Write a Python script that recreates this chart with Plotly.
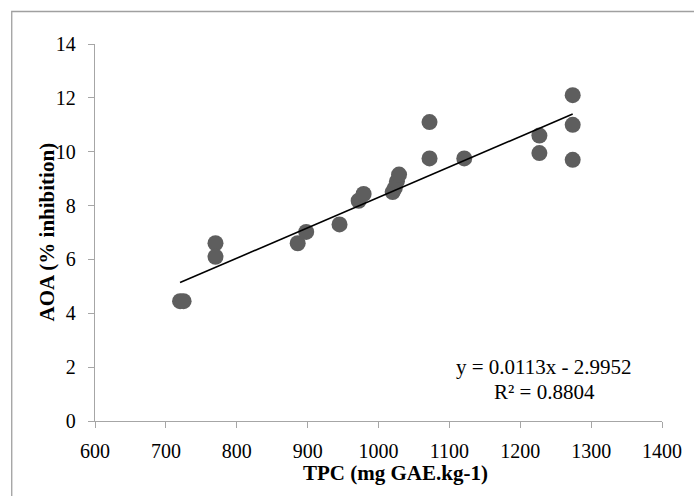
import plotly.graph_objects as go

# Data
tpc = [720, 725, 770, 770, 886, 898, 945, 972, 979, 1020, 1023, 1026, 1029,
       1072, 1072, 1121, 1227, 1227, 1274, 1274, 1274]
aoa = [4.45, 4.45, 6.6, 6.1, 6.6, 7.02, 7.3, 8.18, 8.43, 8.5, 8.65, 8.9, 9.15,
       11.1, 9.75, 9.75, 10.6, 9.95, 12.1, 11.0, 9.7]

slope = 0.0113
intercept = -2.9952
r2_text = "R² = 0.8804"
eq_text = "y = 0.0113x - 2.9952"

x_ticks = [600, 700, 800, 900, 1000, 1100, 1200, 1300, 1400]
y_ticks = [0, 2, 4, 6, 8, 10, 12, 14]

x_title = "TPC (mg GAE.kg-1)"
y_title = "AOA (% inhibition)"

FONT = "Times New Roman"
AXIS_GRAY = "#a6a6a6"

W, H = 694, 496
ML, MR, MT, MB = 95, 27, 44, 75

trend_x = [min(tpc), max(tpc)]
trend_y = [slope * v + intercept for v in trend_x]

fig = go.Figure()
fig.add_trace(go.Scatter(
    x=tpc, y=aoa, mode="markers",
    marker=dict(size=16, color="#5e5e5e", line=dict(width=0)),
    showlegend=False, hoverinfo="x+y",
))
fig.add_trace(go.Scatter(
    x=trend_x, y=trend_y, mode="lines",
    line=dict(color="black", width=1.6),
    showlegend=False, hoverinfo="skip",
))

pw = W - ML - MR
ph = H - MT - MB

def px_to_paper_x(px):
    return (px - ML) / pw

def px_to_paper_y(py):
    return (H - MB - py) / ph

fig.update_layout(
    width=W, height=H,
    margin=dict(l=ML, r=MR, t=MT, b=MB, pad=0),
    paper_bgcolor="white", plot_bgcolor="white",
    font=dict(family=FONT, size=20, color="black"),
    xaxis=dict(
        range=[600, 1400], tickvals=x_ticks, ticktext=[str(v) for v in x_ticks],
        showgrid=False, zeroline=False, showline=True, linecolor=AXIS_GRAY, linewidth=1.3,
        ticks="outside", ticklen=6, tickcolor=AXIS_GRAY, tickwidth=1.3,
        ticklabelstandoff=6, tickfont=dict(family=FONT, size=20, color="black"),
        fixedrange=True,
    ),
    yaxis=dict(
        range=[0, 14], tickvals=y_ticks, ticktext=[str(v) for v in y_ticks],
        showgrid=False, zeroline=False, showline=True, linecolor=AXIS_GRAY, linewidth=1.3,
        ticks="outside", ticklen=6, tickcolor=AXIS_GRAY, tickwidth=1.3,
        ticklabelstandoff=8, tickfont=dict(family=FONT, size=20, color="black"),
        fixedrange=True,
    ),
    annotations=[
        dict(text=eq_text, x=px_to_paper_x(548), y=px_to_paper_y(367),
             xref="paper", yref="paper", showarrow=False, xanchor="center", yanchor="middle",
             font=dict(family=FONT, size=21, color="black")),
        dict(text=r2_text, x=px_to_paper_x(548), y=px_to_paper_y(392),
             xref="paper", yref="paper", showarrow=False, xanchor="center", yanchor="middle",
             font=dict(family=FONT, size=21, color="black")),
        dict(text="<b>" + x_title + "</b>", x=px_to_paper_x(398), y=px_to_paper_y(473),
             xref="paper", yref="paper", showarrow=False, xanchor="center", yanchor="middle",
             font=dict(family=FONT, size=21, color="black")),
        dict(text="<b>" + y_title + "</b>", x=px_to_paper_x(47), y=px_to_paper_y(232),
             xref="paper", yref="paper", showarrow=False, xanchor="center", yanchor="middle",
             textangle=-90, font=dict(family=FONT, size=21, color="black")),
    ],
    shapes=[
        dict(type="rect", xref="paper", yref="paper",
             x0=px_to_paper_x(11), x1=px_to_paper_x(705),
             y0=px_to_paper_y(507), y1=px_to_paper_y(11.5),
             line=dict(color="#a0a0a0", width=1.3), fillcolor="rgba(0,0,0,0)", layer="below"),
    ],
)

fig.write_html("out.html")
